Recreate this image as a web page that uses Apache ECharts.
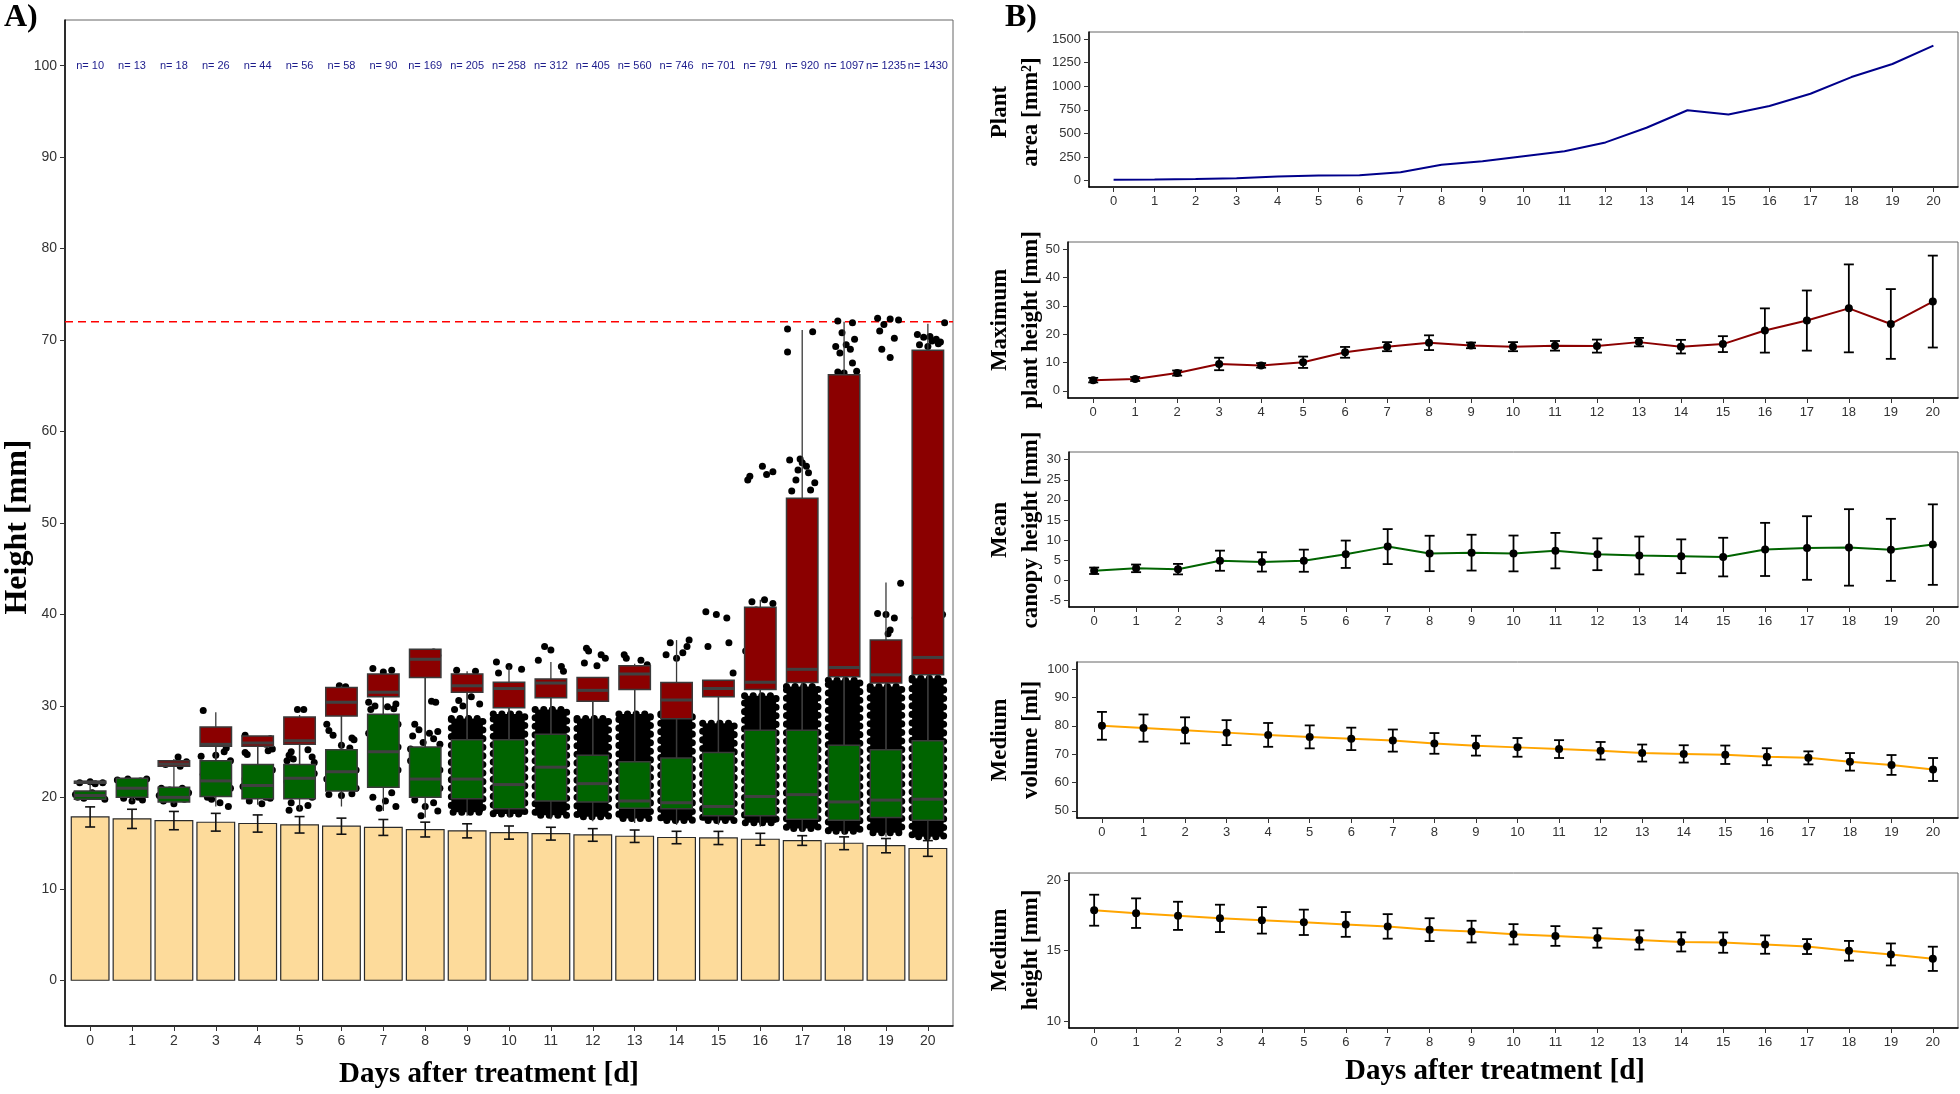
<!DOCTYPE html>
<html><head><meta charset="utf-8">
<script src="https://cdn.jsdelivr.net/npm/echarts@6/dist/echarts.min.js"></script>
<style>html,body{margin:0;padding:0;background:#fff}#c{width:1960px;height:1094px}</style>
</head><body><div id="c"></div>
<script>
// ---------------- DATA ----------------
const days = [0,1,2,3,4,5,6,7,8,9,10,11,12,13,14,15,16,17,18,19,20];
const nCounts = [10,13,18,26,44,56,58,90,169,205,258,312,405,560,746,701,791,920,1097,1235,1430];
const plantArea = [10,13,18,26,44,56,58,90,169,205,258,312,405,560,746,701,791,920,1097,1235,1430];
const maxHeightMean = [3.8,4.2,6.3,9.5,9.0,10.1,13.6,15.6,17.0,16.05,15.6,15.9,15.8,17.2,15.6,16.5,21.3,24.8,29.1,23.6,31.5];
const maxHeightSd = [0.8,0.7,0.9,2.2,0.8,2.0,1.9,1.6,2.6,1.0,1.6,1.7,2.3,1.5,2.4,2.8,7.8,10.6,15.5,12.3,16.2];
const canopyMean = [2.4,3.0,2.8,4.9,4.6,4.9,6.5,8.4,6.7,6.9,6.7,7.4,6.5,6.2,6.0,5.8,7.7,8.05,8.2,7.6,8.9];
const canopySd = [0.8,0.95,1.3,2.5,2.4,2.75,3.4,4.35,4.4,4.45,4.45,4.4,3.95,4.7,4.2,4.8,6.6,7.9,9.5,7.7,10.0];
const volumeMean = [80.0,79.2,78.4,77.6,76.8,76.1,75.4,74.8,73.8,73.0,72.4,71.8,71.2,70.4,70.1,69.8,69.1,68.7,67.3,66.2,64.6];
const volumeSd = [4.9,4.8,4.6,4.4,4.2,4.05,3.95,3.9,3.65,3.5,3.3,3.15,3.1,3.0,3.05,3.25,3.0,2.3,3.1,3.5,4.05];
const mediumHeightMean = [17.86,17.65,17.46,17.28,17.14,17.0,16.85,16.71,16.48,16.34,16.15,16.03,15.89,15.75,15.61,15.56,15.42,15.28,14.98,14.72,14.41];
const mediumHeightSd = [1.1,1.05,1.0,0.97,0.94,0.9,0.88,0.87,0.81,0.77,0.72,0.7,0.69,0.68,0.68,0.72,0.65,0.53,0.7,0.78,0.86];

// canopy (green) boxplots
const greenLow  = [19.8,19.6,19.3,19.0,19.2,18.6,19.0,18.5,17.8,18.0,17.8,17.6,17.4,17.2,17.0,17.0,16.8,16.2,15.9,15.7,15.3];
const greenQ1   = [19.8,20.0,19.5,20.1,19.85,19.85,20.7,21.1,20.0,19.85,18.75,19.6,19.5,18.8,18.75,18.0,18.0,17.6,17.5,17.8,17.5];
const greenMed  = [20.2,21.0,20.0,21.8,21.3,22.1,22.8,25.0,22.0,22.0,21.4,23.3,21.5,19.6,19.4,19.0,20.1,20.3,19.5,19.7,19.8];
const greenQ3   = [20.7,22.1,21.1,24.0,23.6,23.6,25.2,29.1,25.5,26.3,26.3,26.9,24.6,23.9,24.3,24.9,27.35,27.35,25.7,25.2,26.2];
const greenHigh = [20.7,22.1,21.1,25.6,25.6,25.8,28.9,31.0,33.1,31.5,29.8,30.9,30.5,31.8,28.6,31.0,31.8,32.5,33.2,32.5,33.4];
// plant top (red) boxplots (null = no box)
const redLow  = [20.7,null,21.1,24.0,23.6,23.6,25.2,29.1,25.5,26.3,26.3,26.9,24.6,23.9,24.3,24.9,27.35,27.35,25.7,25.2,26.2];
const redQ1   = [21.55,null,23.4,25.6,25.6,25.8,28.9,31.0,33.1,31.5,29.8,30.9,30.5,31.8,28.6,31.0,31.8,32.55,33.2,32.5,33.4];
const redMed  = [21.65,null,23.65,25.8,25.95,26.2,30.4,31.5,35.1,32.2,31.9,32.5,31.7,33.5,30.65,31.9,32.6,34.0,34.2,33.4,35.3];
const redQ3   = [21.75,null,24.0,27.7,26.7,28.8,32.0,33.5,36.2,33.5,32.6,32.95,33.1,34.4,32.55,32.8,40.8,52.7,66.2,37.2,68.9];
const redHigh = [21.75,null,24.2,29.3,26.7,29.0,32.2,33.5,36.2,33.8,34.3,34.8,33.1,34.6,37.2,32.8,41.6,71.1,72.0,43.5,71.8];
// dense jittered point clouds (range of heights)
const cloudLow  = [null,null,null,null,null,null,null,null,null,18.0,17.8,17.65,17.5,17.3,17.1,17.1,16.85,16.2,15.9,15.75,15.3];
const cloudHigh = [null,null,null,null,null,null,null,null,null,29.0,29.5,30.0,29.0,29.5,29.5,28.5,31.5,32.5,33.2,32.5,33.4];
// individual jittered points [day + jitter, height]
const pointsA = [
 [-0.3,20.0],[-0.15,19.9],[0.2,20.1],[0.35,19.8],[0.05,20.5],[-0.25,21.6],[0.0,21.7],[0.3,21.6],[0.12,21.5],[-0.35,20.3],
 [0.65,21.9],[0.9,22.0],[1.2,21.8],[1.3,20.3],[0.7,20.6],[1.0,19.6],[0.8,19.9],[1.25,19.7],[1.1,21.2],[0.75,21.1],[1.35,22.0],[0.95,20.4],[1.15,20.0],
 [2.1,24.4],[1.8,23.6],[2.3,23.9],[1.7,21.0],[2.2,21.0],[2.35,20.5],[1.75,19.6],[2.0,19.3],[2.25,19.8],[1.9,20.8],[2.15,23.4],[1.65,20.2],
 [2.7,29.5],[3.0,24.6],[3.2,25.0],[3.25,25.4],[2.65,24.5],[3.35,24.0],[2.8,20.0],[3.1,19.4],[2.9,19.8],[3.3,19.0],[2.7,22.5],[3.35,21.0],
 [3.7,26.8],[4.3,26.4],[4.2,25.8],[3.75,24.7],[3.7,24.9],[4.35,25.3],[4.25,25.1],[3.8,19.6],[4.1,19.3],[4.3,19.9],[3.7,22.0],[4.35,23.0],[3.65,21.2],[4.2,20.0],
 [4.95,29.6],[5.1,29.6],[4.8,25.0],[4.75,24.6],[5.3,24.4],[4.7,24.0],[4.85,24.2],[5.2,25.2],[5.35,23.8],[4.8,19.4],[5.0,18.8],[5.2,19.1],[4.75,18.6],[5.3,20.0],[4.7,21.7],[5.35,22.6],
 [5.95,32.2],[6.1,32.1],[5.65,28.0],[5.7,27.3],[6.25,26.5],[6.3,26.3],[5.8,26.8],[6.0,25.7],[6.2,25.4],[5.7,24.0],[6.35,23.0],[5.65,22.0],[6.35,21.0],[5.7,20.3],[6.0,20.2],[6.25,20.4],[5.75,21.4],
 [6.75,34.1],[7.2,33.9],[7.0,33.7],[6.65,30.4],[6.8,30.0],[7.3,30.2],[7.25,29.7],[7.1,29.9],[6.7,29.6],[7.35,28.0],[6.65,27.0],[7.35,25.5],[6.7,24.5],[7.35,23.0],[6.7,22.0],[6.75,20.0],[7.05,19.6],[7.3,19.0],[6.9,18.8],[7.2,20.5],
 [7.9,35.8],[8.2,35.9],[8.3,35.5],[8.15,30.5],[8.25,30.4],[7.75,28.0],[7.85,27.4],[8.1,27.0],[8.3,27.2],[7.7,26.7],[8.2,26.4],[7.95,26.0],[8.35,25.8],[7.65,25.3],[7.65,24.0],[8.35,23.0],[7.7,22.2],[8.35,21.0],[7.75,19.7],[8.0,19.0],[8.3,18.5],[7.9,18.0],[8.2,19.4],
 [8.75,33.9],[9.2,33.8],[9.1,31.0],[8.8,30.6],[9.3,30.2],[8.9,30.0],[8.7,29.6],
 [9.7,34.8],[10.0,34.3],[10.3,34.0],[9.75,33.6],[10.2,30.5],[9.7,30.2],
 [10.85,36.5],[11.0,36.1],[10.7,35.0],[11.25,34.3],[11.3,33.8],[10.75,31.5],
 [11.85,36.3],[11.9,36.0],[12.2,35.6],[12.3,35.2],[11.8,34.7],[12.1,34.4],
 [12.8,35.2],[13.15,35.0],[13.3,34.5],[12.75,35.6],[13.1,32.5],
 [14.3,37.2],[13.85,36.9],[14.15,35.8],[14.0,35.2],[13.75,35.6],[14.25,36.5],[13.8,31.5],
 [14.7,40.3],[14.95,40.0],[15.2,39.6],[14.75,36.5],[15.25,36.9],[15.35,33.6],
 [15.7,54.7],[15.75,55.1],[16.05,56.2],[16.15,55.3],[16.3,55.6],[15.8,41.4],[16.1,41.6],[16.3,41.2],[15.9,40.5],[16.2,37.6],[15.65,36.0],
 [16.65,71.2],[17.25,70.9],[16.65,68.7],[16.7,56.9],[17.0,56.6],[17.15,55.5],[16.85,54.7],[17.3,54.4],[16.75,53.5],[17.1,56.2],[16.9,55.8],[17.2,53.6],[16.95,57.0],
 [17.85,72.1],[18.2,71.9],[17.95,70.8],[18.25,70.1],[18.05,69.5],[17.8,69.3],[18.15,69.0],[17.9,68.6],[18.0,66.4],[18.3,66.6],[17.85,66.5],[18.2,67.5],
 [18.8,72.4],[19.1,72.3],[19.3,72.2],[18.95,71.7],[18.85,71.0],[19.2,70.2],[18.9,69.0],[19.1,68.1],[19.35,43.4],[18.8,40.1],[19.0,40.0],[19.2,39.6],[19.1,38.3],[19.05,37.9],
 [20.4,71.9],[19.75,70.6],[19.9,70.3],[20.05,70.4],[20.2,70.1],[20.3,69.8],[19.8,69.5],[20.0,69.3],[20.25,69.6],[20.1,69.9],[20.35,40.0],[19.7,39.6]
];
const thresholdHeight = 72;
const heightTicks = [0,10,20,30,40,50,60,70,80,90,100];
const areaTicks = [0,250,500,750,1000,1250,1500];
const maxTicks = [0,10,20,30,40,50];
const canopyTicks = [-5,0,5,10,15,20,25,30];
const volumeTicks = [50,60,70,80,90,100];
const medHeightTicks = [10,15,20];

// ---------------- CHART ----------------
const chart = echarts.init(document.getElementById('c'), null, {renderer:'canvas'});
const SANS = 'Liberation Sans, Arial, sans-serif';
const SERIF = 'Liberation Serif, Times New Roman, serif';

const grids = [
  {left:65, top:20, width:888, height:1006},
  {left:1089, top:32, width:869, height:155},
  {left:1068, top:242, width:890, height:156},
  {left:1069, top:452, width:889, height:155},
  {left:1077, top:662, width:881, height:156},
  {left:1069, top:873, width:889, height:155}
].map(g => Object.assign({show:true, borderColor:'#666', borderWidth:1, containLabel:false}, g));

function xAx(gi, fs){
  return {type:'value', gridIndex:gi, min:-0.6, max:20.6,
    axisLine:{show:true, onZero:false, lineStyle:{color:'#000', width:1.5}},
    axisTick:{show:true, length:5, customValues:days, lineStyle:{color:'#333', width:1}},
    axisLabel:{show:true, customValues:days, color:'#333', fontSize:fs, fontFamily:SANS, margin:8, formatter:v=>String(v)},
    splitLine:{show:false}};
}
function yAx(gi, mn, mx, ticks, fs){
  return {type:'value', gridIndex:gi, min:mn, max:mx,
    axisLine:{show:true, onZero:false, lineStyle:{color:'#000', width:1.5}},
    axisTick:{show:true, length:5, customValues:ticks, lineStyle:{color:'#333', width:1}},
    axisLabel:{show:true, customValues:ticks, color:'#333', fontSize:fs, fontFamily:SANS, margin:8, formatter:v=>String(v)},
    splitLine:{show:false}};
}

function boxRenderer(color){
  return function(params, api){
    const x = api.value(0);
    const lo = api.value(1), q1 = api.value(2), md = api.value(3), q3 = api.value(4), hi = api.value(5);
    const hw = api.size([0.75, 0])[0] / 2;
    const pLo = api.coord([x, lo]), pQ1 = api.coord([x, q1]), pMd = api.coord([x, md]), pQ3 = api.coord([x, q3]), pHi = api.coord([x, hi]);
    return {type:'group', children:[
      {type:'line', shape:{x1:pLo[0], y1:pLo[1], x2:pQ1[0], y2:pQ1[1]}, style:{stroke:'#3a3a3a', lineWidth:1.3}},
      {type:'line', shape:{x1:pQ3[0], y1:pQ3[1], x2:pHi[0], y2:pHi[1]}, style:{stroke:'#3a3a3a', lineWidth:1.3}},
      {type:'rect', shape:{x:pQ3[0]-hw, y:pQ3[1], width:2*hw, height:Math.max(pQ1[1]-pQ3[1], 1)}, style:{fill:color, stroke:'#3a3a3a', lineWidth:1.5}},
      {type:'line', shape:{x1:pMd[0]-hw, y1:pMd[1], x2:pMd[0]+hw, y2:pMd[1]}, style:{stroke:'#404040', lineWidth:3}}
    ]};
  };
}
function errRenderer(capPx, color, lw){
  return function(params, api){
    const x = api.value(0), m = api.value(1), s = api.value(2);
    const pt = api.coord([x, m + s]), pb = api.coord([x, m - s]);
    const st = {stroke:color, lineWidth:lw};
    return {type:'group', children:[
      {type:'line', shape:{x1:pt[0], y1:pt[1], x2:pb[0], y2:pb[1]}, style:st},
      {type:'line', shape:{x1:pt[0]-capPx/2, y1:pt[1], x2:pt[0]+capPx/2, y2:pt[1]}, style:st},
      {type:'line', shape:{x1:pb[0]-capPx/2, y1:pb[1], x2:pb[0]+capPx/2, y2:pb[1]}, style:st}
    ]};
  };
}

const greenData = days.map((d,i)=>[d, greenLow[i], greenQ1[i], greenMed[i], greenQ3[i], greenHigh[i]]);
const redData = days.filter((d,i)=>redQ1[i]!==null).map(d=>[d, redLow[d], redQ1[d], redMed[d], redQ3[d], redHigh[d]]);
const cloudData = days.filter((d,i)=>cloudLow[i]!==null).map(d=>[d, cloudLow[d], cloudHigh[d]]);
const nLabelY = 100;

const series = [
  // Panel A: bars of medium height
  {type:'custom', xAxisIndex:0, yAxisIndex:0, z:1, clip:true,
   data: days.map((d,i)=>[d, mediumHeightMean[i]]),
   renderItem:(params, api)=>{
     const x = api.value(0), v = api.value(1);
     const hw = api.size([0.9,0])[0]/2;
     const p0 = api.coord([x,0]), p1 = api.coord([x,v]);
     return {type:'rect', shape:{x:p0[0]-hw, y:p1[1], width:2*hw, height:p0[1]-p1[1]}, style:{fill:'#FDDB9B', stroke:'#2a2a2a', lineWidth:1.2}};
   }},
  {type:'custom', xAxisIndex:0, yAxisIndex:0, z:2, clip:true,
   data: days.map((d,i)=>[d, mediumHeightMean[i], mediumHeightSd[i]]),
   renderItem: errRenderer(10, '#111', 1.6)},
  {type:'line', xAxisIndex:0, yAxisIndex:0, z:2, symbol:'none', silent:true,
   data:[[-0.6, thresholdHeight],[20.6, thresholdHeight]],
   lineStyle:{color:'#FF0000', width:1.6, type:[8,5]}},
  // dense point clouds (drawn with dotted, bumpy edges)
  {type:'custom', xAxisIndex:0, yAxisIndex:0, z:3, clip:true, data: cloudData,
   renderItem:(params, api)=>{
     const x = api.value(0), lo = api.value(1), hi = api.value(2);
     const hw = api.size([0.92,0])[0]/2 - 3.5;
     const pl = api.coord([x,lo]), ph = api.coord([x,hi]);
     return {type:'rect', shape:{x:pl[0]-hw, y:ph[1]+3.5, width:2*hw, height:pl[1]-ph[1]-7},
       style:{fill:'#000', stroke:'#000', lineWidth:7, lineDash:[0.1, 8.5], lineCap:'round'}};
   }},
  {type:'scatter', xAxisIndex:0, yAxisIndex:0, z:4, symbolSize:7, data: pointsA, itemStyle:{color:'#000', opacity:1}, silent:true},
  {type:'custom', xAxisIndex:0, yAxisIndex:0, z:5, clip:true, data: greenData, renderItem: boxRenderer('#006400')},
  {type:'custom', xAxisIndex:0, yAxisIndex:0, z:5, clip:true, data: redData, renderItem: boxRenderer('#8B0000')},
  {type:'custom', xAxisIndex:0, yAxisIndex:0, z:6, data: days.map((d,i)=>[d, nLabelY, nCounts[i]]),
   renderItem:(params, api)=>{
     const p = api.coord([api.value(0), api.value(1)]);
     return {type:'text', x:p[0], y:p[1], style:{text:'n= '+api.value(2), fill:'#1c1c8c', fontSize:11, fontFamily:SANS, align:'center', verticalAlign:'middle'}};
   }},
  // B1 plant area
  {type:'line', xAxisIndex:1, yAxisIndex:1, symbol:'none', data: days.map((d,i)=>[d, plantArea[i]]),
   lineStyle:{color:'#00008B', width:2}},
  // B2 max plant height
  {type:'custom', xAxisIndex:2, yAxisIndex:2, z:2, data: days.map((d,i)=>[d, maxHeightMean[i], maxHeightSd[i]]), renderItem: errRenderer(10,'#000',1.8)},
  {type:'line', xAxisIndex:2, yAxisIndex:2, z:3, symbol:'circle', symbolSize:8, data: days.map((d,i)=>[d, maxHeightMean[i]]),
   lineStyle:{color:'#8B0000', width:2}, itemStyle:{color:'#000', borderWidth:0}},
  // B3 canopy
  {type:'custom', xAxisIndex:3, yAxisIndex:3, z:2, data: days.map((d,i)=>[d, canopyMean[i], canopySd[i]]), renderItem: errRenderer(10,'#000',1.8)},
  {type:'line', xAxisIndex:3, yAxisIndex:3, z:3, symbol:'circle', symbolSize:8, data: days.map((d,i)=>[d, canopyMean[i]]),
   lineStyle:{color:'#006400', width:2}, itemStyle:{color:'#000', borderWidth:0}},
  // B4 volume
  {type:'custom', xAxisIndex:4, yAxisIndex:4, z:2, data: days.map((d,i)=>[d, volumeMean[i], volumeSd[i]]), renderItem: errRenderer(10,'#000',1.8)},
  {type:'line', xAxisIndex:4, yAxisIndex:4, z:3, symbol:'circle', symbolSize:8, data: days.map((d,i)=>[d, volumeMean[i]]),
   lineStyle:{color:'#FFA500', width:2}, itemStyle:{color:'#000', borderWidth:0}},
  // B5 medium height
  {type:'custom', xAxisIndex:5, yAxisIndex:5, z:2, data: days.map((d,i)=>[d, mediumHeightMean[i], mediumHeightSd[i]]), renderItem: errRenderer(10,'#000',1.8)},
  {type:'line', xAxisIndex:5, yAxisIndex:5, z:3, symbol:'circle', symbolSize:8, data: days.map((d,i)=>[d, mediumHeightMean[i]]),
   lineStyle:{color:'#FFA500', width:2}, itemStyle:{color:'#000', borderWidth:0}}
];
series.forEach(s=>{ s.animation = false; });

function ytitle(x, y, txt, size, lh){
  return {type:'text', x:x, y:y, rotation:Math.PI/2, z:10,
    style:{text:txt, font:'bold '+size+'px '+SERIF, fill:'#000', align:'center', verticalAlign:'middle', lineHeight:lh}};
}
function htitle(x, y, txt, size){
  return {type:'text', x:x, y:y, z:10,
    style:{text:txt, font:'bold '+size+'px '+SERIF, fill:'#000', align:'center', verticalAlign:'middle'}};
}

chart.setOption({
  animation:false,
  backgroundColor:'#fff',
  grid: grids,
  xAxis: [xAx(0,14), xAx(1,13), xAx(2,13), xAx(3,13), xAx(4,13), xAx(5,13)],
  yAxis: [yAx(0,-5,105,heightTicks,14), yAx(1,-67,1574,areaTicks,13), yAx(2,-2.5,52.5,maxTicks,13),
          yAx(3,-6.6,31.9,canopyTicks,13), yAx(4,47.5,102.5,volumeTicks,13), yAx(5,9.5,20.5,medHeightTicks,13)],
  series: series,
  graphic: [
    {type:'text', left:4, top:2, style:{text:'A)', font:'bold 32px '+SERIF, fill:'#000'}},
    {type:'text', left:1005, top:2, style:{text:'B)', font:'bold 32px '+SERIF, fill:'#000'}},
    ytitle(18, 527, 'Height [mm]', 32, 36),
    htitle(489, 1075, 'Days after treatment [d]', 29),
    htitle(1495, 1072, 'Days after treatment [d]', 29),
    ytitle(1016, 112, 'Plant\narea [mm²]', 23, 31),
    ytitle(1016, 320, 'Maximum\nplant height [mm]', 23, 31),
    ytitle(1016, 530, 'Mean\ncanopy height [mm]', 23, 31),
    ytitle(1016, 740, 'Medium\nvolume [ml]', 23, 31),
    ytitle(1016, 950, 'Medium\nheight [mm]', 23, 31)
  ]
});
</script></body></html>
